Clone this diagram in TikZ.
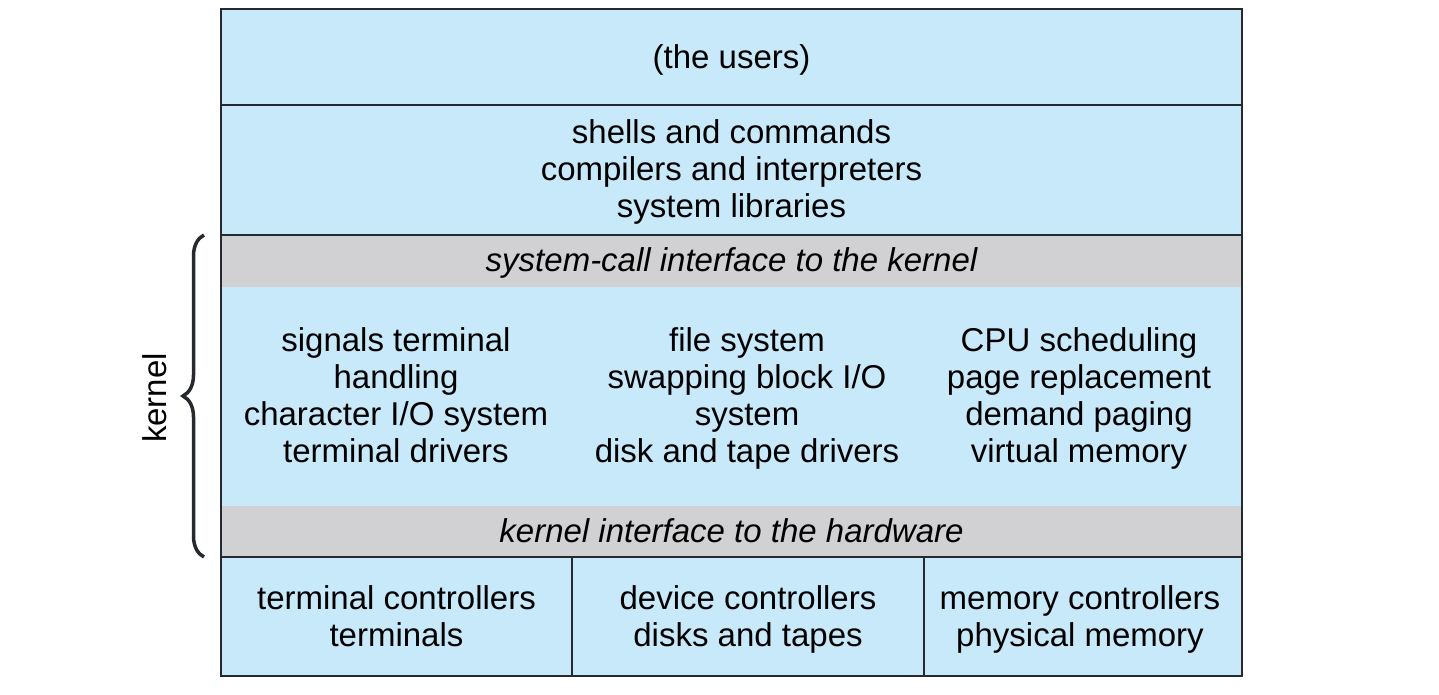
\documentclass[tikz,border=0pt]{standalone}
\usepackage{fontspec}
\setmainfont{Liberation Sans}
\usetikzlibrary{decorations.pathreplacing}
\definecolor{bandblue}{RGB}{200,233,249}
\definecolor{bandgray}{RGB}{209,209,211}
\definecolor{rule}{RGB}{38,42,46}
\tikzset{
  region/.style={inner sep=0pt, outer sep=0pt},
  bluebox/.style={region, fill=bandblue},
  graybox/.style={region, fill=bandgray},
  coltext/.style={inner sep=0pt, align=center, font=\fontsize{33}{37}\selectfont},
  itext/.style={coltext, font=\fontsize{33}{37}\selectfont\itshape},
  frame/.style={draw=rule, line width=2.5pt},
}
\begin{document}
\begin{tikzpicture}[x=1pt,y=-1pt]
\useasboundingbox (0,0) rectangle (1439,695);
% bands
\node[bluebox, minimum width=1021pt, minimum height=96pt] (users) at (731.5,57) {};
\node[coltext] (userst) at (731.5,61) {\strut(the users)};
\node[bluebox, minimum width=1021pt, minimum height=130pt] (libs) at (731.5,170) {};
\node[coltext] (libst) at (731.5,173) {\strut shells and commands\\\strut compilers and interpreters\\\strut system libraries};
\node[graybox, minimum width=1021pt, minimum height=52pt] (syscall) at (731.5,261) {};
\node[itext] (syscallt) at (731.5,264) {\strut system-call interface to the kernel};
\node[bluebox, minimum width=1021pt, minimum height=219pt] (kernel) at (731.5,396.5) {};
\node[graybox, minimum width=1021pt, minimum height=51pt] (hwif) at (731.5,531.5) {};
\node[itext] (hwift) at (731.5,535) {\strut kernel interface to the hardware};
\node[bluebox, minimum width=351pt, minimum height=119pt] (hw1) at (396.5,616.5) {};
\node[bluebox, minimum width=352pt, minimum height=119pt] (hw2) at (748,616.5) {};
\node[bluebox, minimum width=318pt, minimum height=119pt] (hw3) at (1083,616.5) {};
\node[coltext] (hw1t) at (396.5,621) {\strut terminal controllers\\\strut terminals};
\node[coltext] (hw2t) at (748,621) {\strut device controllers\\\strut disks and tapes};
\node[coltext] (hw3t) at (1080,621) {\strut memory controllers\\\strut physical memory};
% kernel columns
\node[coltext] (k1) at (396,400) {\strut signals terminal\\\strut handling\\\strut character I/O system\\\strut terminal drivers};
\node[coltext] (k2) at (747,400) {\strut file system\\\strut swapping block I/O\\\strut system\\\strut disk and tape drivers};
\node[coltext] (k3) at (1079,400) {\strut CPU scheduling\\\strut page replacement\\\strut demand paging\\\strut virtual memory};
% rules
\draw[frame] (users.north west) rectangle (hw3.south east);
\draw[frame] (users.south west) -- (users.south east);
\draw[frame] (libs.south west) -- (libs.south east);
\draw[frame] (hwif.south west) -- (hwif.south east);
\draw[frame] (hw1.north east) -- (hw1.south east);
\draw[frame] (hw2.north east) -- (hw2.south east);
% brace
\coordinate (bb) at (204,557);
\coordinate (bt) at (204,235);
\draw[line width=3.5pt, draw=rule, decorate, decoration={brace, amplitude=21pt}] (bb) -- (bt);
\node[coltext, rotate=90] (klabel) at (155,398) {kernel};
\end{tikzpicture}
\end{document}
